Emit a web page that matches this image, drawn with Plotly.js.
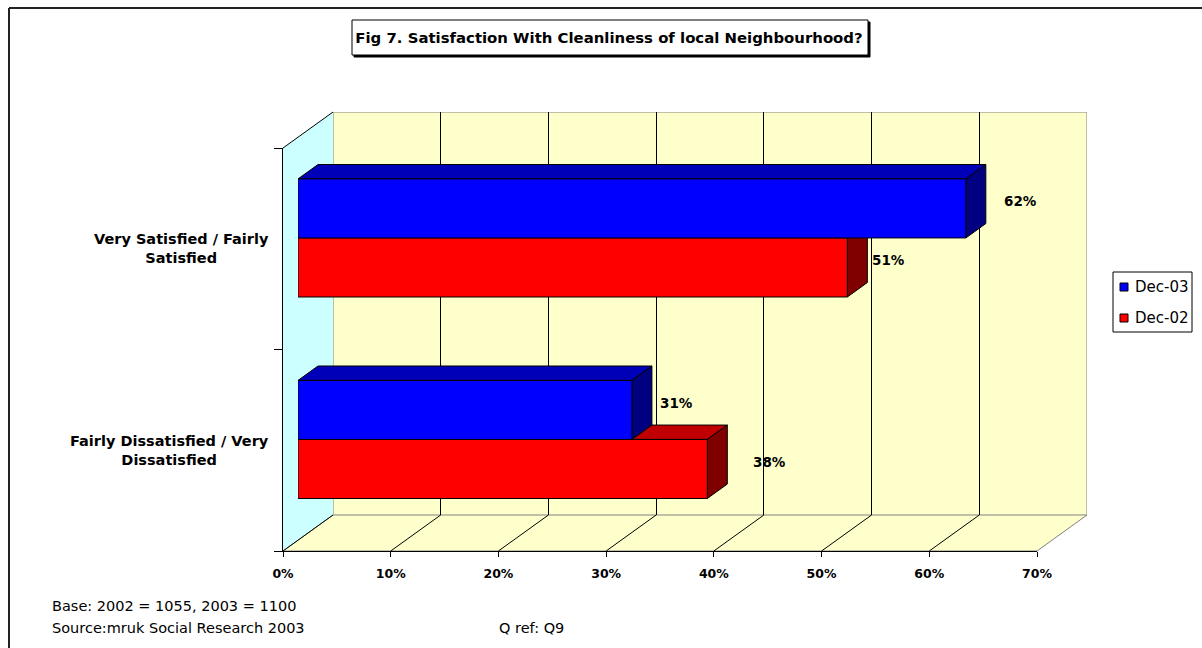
<!DOCTYPE html>
<html>
<head>
<meta charset="utf-8">
<script src="https://cdn.plot.ly/plotly-3.0.1.min.js"></script>
<style>
  html, body { margin: 0; padding: 0; background: #fff; }
  #chart { width: 1202px; height: 648px; }
</style>
</head>
<body>
<div id="chart"></div>
<script>
// ---- chart content ----
const chartTitle = 'Fig 7. Satisfaction With Cleanliness of local Neighbourhood?';
const categories = ['Very Satisfied / Fairly Satisfied', 'Fairly Dissatisfied / Very Dissatisfied'];
const categoryLabels = ['Very Satisfied / Fairly<br>Satisfied', 'Fairly Dissatisfied / Very<br>Dissatisfied'];
const seriesNames = ['Dec-03', 'Dec-02'];
const dec03 = [62, 31];
const dec02 = [51, 38];
const xTicks = [0, 10, 20, 30, 40, 50, 60, 70];
const xTickLabels = ['0%', '10%', '20%', '30%', '40%', '50%', '60%', '70%'];
const footnotes = ['Base: 2002 = 1055, 2003 = 1100', 'Source:mruk Social Research 2003', 'Q ref: Q9'];

// ---- geometry of the pseudo-3D box (pixels) ----
const W = 1202, H = 648;
const FRONT = { x0: 283, x1: 1037, yTop: 148, yBottom: 551 };
const DEPTH = { dx: 50, dy: -36 };       // offset from front plane to back wall
const BAR_PLANE = 0.3;                    // depth fraction of the bars' front faces
const BAR_DEPTH = 0.4;                    // depth fraction of the bars themselves
const BARGAP = 0.414;

const X_MAX = xTicks[xTicks.length - 1];
const nCat = categories.length;
const pxPerPct = (FRONT.x1 - FRONT.x0) / X_MAX;
const pxPerCat = (FRONT.yBottom - FRONT.yTop) / nCat;
const px = (v, f) => FRONT.x0 + v * pxPerPct + f * DEPTH.dx;
const py = (c, f) => FRONT.yBottom - (c + 0.5) * pxPerCat + f * DEPTH.dy;
const PX = p => p / W;
const PY = p => 1 - p / H;
const plane = f => ({
  x: [PX(px(0, f)), PX(px(X_MAX, f))],
  y: [PY(py(-0.5, f)), PY(py(nCat - 0.5, f))]
});
const paperPath = pts => 'M' + pts.map(p => PX(p[0]).toFixed(5) + ',' + PY(p[1]).toFixed(5)).join('L') + 'Z';
const paperRect = (x0, y0, x1, y1, fill, line, lw) => ({
  type: 'rect', xref: 'paper', yref: 'paper', layer: 'below',
  x0: PX(x0), x1: PX(x1), y0: PY(y1), y1: PY(y0),
  fillcolor: fill, line: { color: line, width: lw }
});
const paperLine = (x0, y0, x1, y1, color, lw) => ({
  type: 'line', xref: 'paper', yref: 'paper', layer: 'below',
  x0: PX(x0), x1: PX(x1), y0: PY(y0), y1: PY(y1),
  line: { color: color, width: lw }
});

const seriesStyle = {
  'Dec-03': { front: '#0000FF', top: '#0000B8', side: '#000080' },
  'Dec-02': { front: '#FF0000', top: '#C00000', side: '#800000' }
};
const labelShift = { 'Dec-03': [55, 45], 'Dec-02': [41, 62] };

const FONT = 'DejaVu Sans';
const cTop = nCat - 0.5, cBot = -0.5;

// bars are drawn bottom-up within a group: Dec-02 below Dec-03
const series = [
  { name: seriesNames[1], values: dec02 },
  { name: seriesNames[0], values: dec03 }
];
const yPos = categories.map((_, i) => nCat - 1 - i);
const barW = (1 - BARGAP) / series.length;

const traces = [
  { type: 'scatter', x: [], y: [], xaxis: 'x', yaxis: 'y', showlegend: false, hoverinfo: 'skip' },
  { type: 'scatter', x: [], y: [], xaxis: 'x2', yaxis: 'y2', showlegend: false, hoverinfo: 'skip' }
];
series.forEach(s => {
  traces.push({
    type: 'bar', orientation: 'h', name: s.name,
    x: s.values, y: yPos, xaxis: 'x3', yaxis: 'y3',
    customdata: categories,
    marker: { color: seriesStyle[s.name].front, line: { color: '#000', width: 1 } },
    hovertemplate: '%{customdata}<br>' + s.name + ': %{x}%<extra></extra>',
    showlegend: false
  });
});

// ---- walls, floor and box edges ----
const shapes = [];
// outer frame (top and left edges; the rest runs off the page)
shapes.push(paperLine(9, 8, W, 8, '#222', 2));
shapes.push(paperLine(9, 8, 9, H, '#222', 2));
// title box with drop shadow
shapes.push(paperRect(354, 22, 870, 57, '#000', '#000', 1));
shapes.push(paperRect(352, 20, 868, 55, '#fff', '#000', 1));
// left wall
shapes.push({
  type: 'path', xref: 'paper', yref: 'paper', layer: 'below',
  path: paperPath([[px(0, 0), py(cBot, 0)], [px(0, 1), py(cBot, 1)], [px(0, 1), py(cTop, 1)], [px(0, 0), py(cTop, 0)]]),
  fillcolor: '#CCFFFF', line: { width: 0 }
});
// floor
shapes.push({
  type: 'path', xref: 'paper', yref: 'paper', layer: 'below',
  path: paperPath([[px(0, 0), py(cBot, 0)], [px(X_MAX, 0), py(cBot, 0)], [px(X_MAX, 1), py(cBot, 1)], [px(0, 1), py(cBot, 1)]]),
  fillcolor: '#FFFFCC', line: { color: '#808080', width: 1 }
});
// floor grid lines running back from each tick
xTicks.slice(0, -1).forEach(v => {
  shapes.push(paperLine(px(v, 0), py(cBot, 0), px(v, 1), py(cBot, 1), '#000', 1));
});
// top edge of the left wall
shapes.push(paperLine(px(0, 0), py(cTop, 0), px(0, 1), py(cTop, 1), '#000', 1));
// back wall (its grid comes from the back-plane x axis)
shapes.push({
  type: 'rect', xref: 'x', yref: 'y', layer: 'below',
  x0: 0, x1: X_MAX, y0: cBot, y1: cTop,
  fillcolor: '#FFFFCC', line: { color: '#808080', width: 1 }
});

// ---- 3D faces of the bars ----
const ddx = BAR_DEPTH * DEPTH.dx / pxPerPct;
const ddy = BAR_DEPTH * (-DEPTH.dy) / pxPerCat;
const tops = [], sides = [], labels = [];
series.forEach((s, k) => {
  const st = seriesStyle[s.name];
  s.values.forEach((v, i) => {
    const c = yPos[i] + (k - (series.length - 1) / 2) * barW;
    const y0 = c - barW / 2, y1 = c + barW / 2;
    tops.push({
      type: 'path', xref: 'x3', yref: 'y3', layer: 'below',
      path: `M0,${y1}L${v},${y1}L${v + ddx},${y1 + ddy}L${ddx},${y1 + ddy}Z`,
      fillcolor: st.top, line: { color: '#000', width: 1 }
    });
    sides.push({
      type: 'path', xref: 'x3', yref: 'y3', layer: 'below',
      path: `M${v},${y0}L${v + ddx},${y0 + ddy}L${v + ddx},${y1 + ddy}L${v},${y1}Z`,
      fillcolor: st.side, line: { color: '#000', width: 1 }
    });
    labels.push({
      xref: 'x3', yref: 'y3', x: v, y: c, text: v + '%', showarrow: false,
      xanchor: 'center', yanchor: 'middle',
      xshift: labelShift[s.name][i], yshift: BAR_DEPTH * (-DEPTH.dy) / 2,
      font: { family: FONT, size: 13.5, weight: 'bold', color: '#000' }
    });
  });
});
shapes.push(...tops, ...sides);

// ---- legend ----
const legendBox = { x0: 1113, y0: 272, x1: 1192, y1: 332 };
shapes.push(paperRect(legendBox.x0, legendBox.y0, legendBox.x1, legendBox.y1, '#fff', '#000', 1));
const annotations = [];
seriesNames.forEach((name, i) => {
  const yc = 287 + i * 31;
  shapes.push(paperRect(1120, yc - 4, 1128, yc + 4, seriesStyle[name].front, '#000', 1));
  annotations.push({
    xref: 'paper', yref: 'paper', x: PX(1133), y: PY(yc), xanchor: 'left', yanchor: 'middle',
    text: name, showarrow: false, font: { family: FONT, size: 15, color: '#000' }
  });
});

// ---- category labels ----
categoryLabels.forEach((t, i) => {
  annotations.push({
    xref: 'paper', yref: 'y2', x: PX(271), y: yPos[i], xanchor: 'right', yanchor: 'middle',
    text: t, align: 'center', showarrow: false,
    font: { family: FONT, size: 14.5, weight: 'bold', color: '#000' }
  });
});

// ---- footnotes ----
const notePos = [[50, 606], [50, 628], [497, 628]];
footnotes.forEach((t, i) => {
  annotations.push({
    xref: 'paper', yref: 'paper', x: PX(notePos[i][0]), y: PY(notePos[i][1]),
    xanchor: 'left', yanchor: 'middle', text: t, showarrow: false,
    font: { family: FONT, size: 14.5, color: '#000' }
  });
});

annotations.push(...labels);

const back = plane(1), front = plane(0), bars = plane(BAR_PLANE);

const layout = {
  width: W, height: H,
  margin: { l: 0, r: 0, t: 0, b: 0 },
  paper_bgcolor: '#fff', plot_bgcolor: 'rgba(0,0,0,0)',
  showlegend: false,
  barmode: 'group', bargap: BARGAP, bargroupgap: 0,
  title: {
    text: chartTitle, xref: 'paper', yref: 'paper',
    x: PX(609), xanchor: 'center', y: PY(38), yanchor: 'middle',
    font: { family: FONT, size: 14.9, weight: 'bold', color: '#000' }
  },
  xaxis: {
    domain: back.x, range: [0, X_MAX], anchor: 'y',
    tickvals: xTicks.slice(1, -1), showgrid: true, gridcolor: '#000', gridwidth: 1,
    showticklabels: false, ticks: '', zeroline: false, showline: false, fixedrange: true
  },
  yaxis: {
    domain: back.y, range: [cBot, cTop], anchor: 'x',
    showgrid: false, showticklabels: false, ticks: '', zeroline: false, showline: false, fixedrange: true
  },
  xaxis2: {
    domain: front.x, range: [0, X_MAX], anchor: 'y2',
    tickmode: 'array', tickvals: xTicks, ticktext: xTickLabels,
    ticks: 'outside', ticklen: 5, tickcolor: '#000', ticklabelstandoff: 6,
    showline: true, linecolor: '#000', linewidth: 1, showgrid: false, zeroline: false,
    tickfont: { family: FONT, size: 12.5, weight: 'bold', color: '#000' }, fixedrange: true
  },
  yaxis2: {
    domain: front.y, range: [cBot, cTop], anchor: 'x2',
    tickvals: Array.from({ length: nCat + 1 }, (_, i) => i - 0.5),
    ticks: 'outside', ticklen: 8, tickcolor: '#000', showticklabels: false,
    showline: true, linecolor: '#000', linewidth: 1, showgrid: false, zeroline: false, fixedrange: true
  },
  xaxis3: { domain: bars.x, range: [0, X_MAX], anchor: 'y3', visible: false, fixedrange: true },
  yaxis3: { domain: bars.y, range: [cBot, cTop], anchor: 'x3', visible: false, fixedrange: true },
  shapes: shapes,
  annotations: annotations
};

Plotly.newPlot('chart', traces, layout, { displayModeBar: false, responsive: false });
</script>
</body>
</html>
